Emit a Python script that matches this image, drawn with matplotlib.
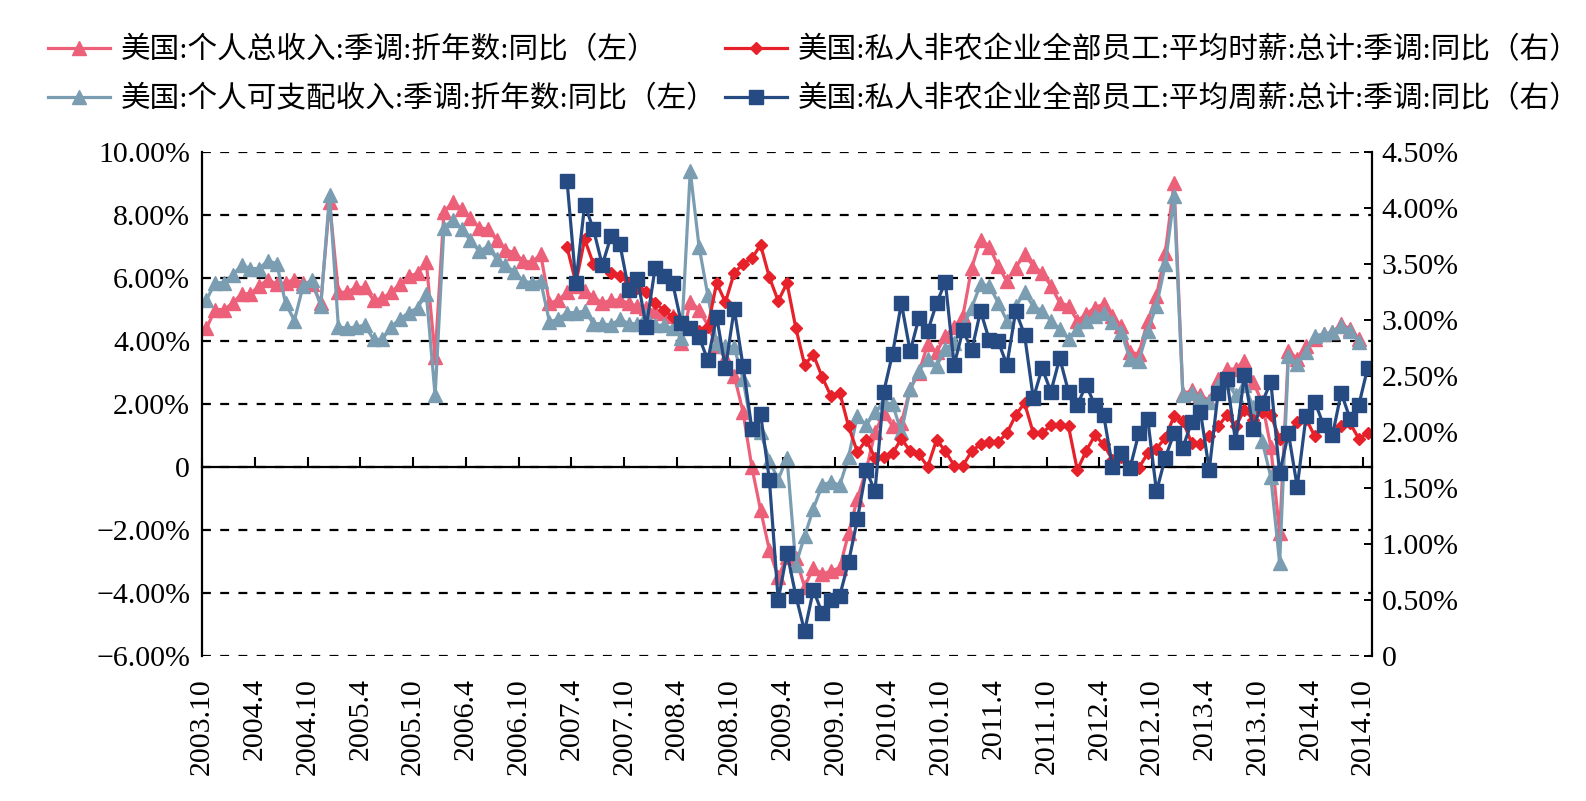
import matplotlib
matplotlib.use('Agg')
import matplotlib.pyplot as plt
import numpy as np
from matplotlib.ticker import FuncFormatter

plt.rcParams['font.family'] = ['Liberation Serif', 'Noto Sans CJK SC']

# monthly data, 2003.10 .. 2014.9 (income, left axis, %)
income_total = [4.4, 5.0, 5.0, 5.2, 5.5, 5.5, 5.75, 5.95, 5.8, 5.85, 5.95, 5.85, 5.8, 5.2, 8.4,
                5.55, 5.55, 5.7, 5.7, 5.3, 5.35, 5.55, 5.8, 6.05, 6.15, 6.5, 3.5, 8.1, 8.4, 8.2,
                7.9, 7.6, 7.55, 7.2, 6.9, 6.8, 6.54, 6.5, 6.75, 5.2, 5.3, 5.55, 5.75, 5.6, 5.4,
                5.2, 5.3, 5.3, 5.2, 5.1, 5.05, 4.95, 4.9, 4.8, 3.95, 5.25, 5.0, 4.5, 3.85, 3.45,
                2.9, 1.75, 0.0, -1.37, -2.64, -3.5, -2.85, -2.9, -3.8, -3.2, -3.4, -3.3, -3.2, -2.1,
                -1.0, -0.1, 1.1, 1.7, 1.3, 1.4, 2.48, 3.0, 3.9, 3.64, 4.17, 4.43, 4.8, 6.33, 7.22,
                7.0, 6.38, 5.9, 6.33, 6.75, 6.38, 6.17, 5.75, 5.22, 5.12, 4.64, 4.85, 5.06, 5.17,
                4.8, 4.48, 3.64, 3.59, 4.64, 5.43, 6.8, 9.02, 2.32, 2.43, 2.27, 2.11, 2.8, 3.11,
                3.11, 3.38, 2.69, 2.06, 0.63, -2.11, 3.69, 3.43, 3.85, 4.06, 4.22, 4.27, 4.54,
                4.38, 4.06]
income_disp = [5.3, 5.85, 5.85, 6.1, 6.4, 6.3, 6.3, 6.55, 6.45, 5.2, 4.65, 5.75, 5.95, 5.1, 8.65,
               4.45, 4.4, 4.45, 4.5, 4.05, 4.05, 4.45, 4.7, 4.9, 5.05, 5.5, 2.27, 7.6, 7.85, 7.55,
               7.2, 6.85, 7.0, 6.6, 6.4, 6.2, 5.9, 5.85, 5.9, 4.6, 4.7, 4.9, 4.9, 4.95, 4.55,
               4.55, 4.5, 4.7, 4.55, 4.55, 4.8, 4.5, 4.5, 4.4, 4.1, 9.4, 7.0, 5.45, 3.95, 3.85,
               3.8, 2.8, 1.2, 1.1, 0.2, -0.4, 0.3, -3.1, -2.2, -1.32, -0.58, -0.47, -0.58, 0.32,
               1.63, 1.32, 1.74, 2.05, 2.0, 1.1, 2.47, 3.06, 3.43, 3.2, 3.74, 3.95, 4.43, 5.06,
               5.8, 5.75, 5.22, 4.64, 5.1, 5.54, 5.1, 4.96, 4.64, 4.38, 4.06, 4.38, 4.64, 4.8,
               4.9, 4.59, 4.27, 3.43, 3.38, 4.32, 5.12, 6.43, 8.6, 2.3, 2.35, 2.2, 2.05, 2.6,
               2.7, 2.27, 2.6, 1.9, 0.84, -0.32, -3.06, 3.53, 3.27, 3.64, 4.17, 4.22, 4.27, 4.48,
               4.32, 3.96]

# monthly data, 2007.3 .. 2014.10 (wages, right axis, %)
wage_start = 41
hourly = [3.65, 3.33, 3.72, 3.5, 3.48, 3.42, 3.39, 3.33, 3.29, 3.25, 3.15, 3.09, 3.03, 2.97,
          2.93, 2.9, 2.94, 3.33, 3.16, 3.42, 3.5, 3.55, 3.67, 3.38, 3.17, 3.33, 2.93, 2.6,
          2.69, 2.49, 2.32, 2.35, 2.05, 1.82, 1.93, 1.77, 1.78, 1.81, 1.94, 1.83, 1.80, 1.69,
          1.93, 1.83, 1.70, 1.70, 1.83, 1.89, 1.91, 1.91, 1.99, 2.15, 2.26, 1.99, 1.99, 2.06,
          2.06, 2.05, 1.66, 1.83, 1.97, 1.89, 1.75, 1.78, 1.70, 1.68, 1.81, 1.85, 1.95, 2.14,
          2.1, 1.9, 1.89, 1.96, 2.05, 2.15, 2.05, 2.2, 2.11, 2.18, 2.15, 1.94, 1.99, 2.09,
          2.12, 1.96, 2.06, 1.99, 2.05, 2.08, 1.94, 1.99]
weekly = [4.24, 3.33, 4.03, 3.81, 3.49, 3.75, 3.68, 3.27, 3.37, 2.94, 3.46, 3.39, 3.33, 2.97,
          2.93, 2.85, 2.64, 3.03, 2.57, 3.1, 2.59, 2.03, 2.16, 1.57, 0.5, 0.92, 0.54, 0.22,
          0.59, 0.38, 0.5, 0.54, 0.84, 1.22, 1.66, 1.47, 2.36, 2.7, 3.15, 2.72, 3.02, 2.9,
          3.15, 3.34, 2.6, 2.91, 2.73, 3.08, 2.82, 2.81, 2.6, 3.08, 2.87, 2.3, 2.57, 2.36,
          2.66, 2.36, 2.24, 2.42, 2.24, 2.15, 1.69, 1.81, 1.68, 1.99, 2.12, 1.47, 1.77, 1.99,
          1.86, 2.09, 2.18, 1.66, 2.35, 2.47, 1.91, 2.51, 2.03, 2.26, 2.45, 1.63, 1.99, 1.51,
          2.14, 2.27, 2.06, 1.97, 2.35, 2.12, 2.24, 2.57]

tick_labels = ['2003.10', '2004.4', '2004.10', '2005.4', '2005.10', '2006.4', '2006.10',
               '2007.4', '2007.10', '2008.4', '2008.10', '2009.4', '2009.10', '2010.4',
               '2010.10', '2011.4', '2011.10', '2012.4', '2012.10', '2013.4', '2013.10',
               '2014.4', '2014.10']

labels = ['美国:个人总收入:季调:折年数:同比（左）',
          '美国:个人可支配收入:季调:折年数:同比（左）',
          '美国:私人非农企业全部员工:平均时薪:总计:季调:同比（右）',
          '美国:私人非农企业全部员工:平均周薪:总计:季调:同比（右）']

c_total = '#EC6079'
c_disp = '#7B9DB2'
c_hourly = '#E62129'
c_weekly = '#264A82'

x_income = np.arange(len(income_total))
x_wage = np.arange(len(hourly)) + wage_start
tick_pos = np.arange(len(tick_labels)) * 6 - 0.5

fig = plt.figure(figsize=(15.86, 8.01), dpi=100)
ax = fig.add_axes([202 / 1586, 1 - 656 / 801, 1170 / 1586, 504 / 801])
ax2 = ax.twinx()

l1, = ax.plot(x_income, income_total, color=c_total, lw=2.3, marker='^', ms=10, mec=c_total)
l2, = ax.plot(x_income, income_disp, color=c_disp, lw=2.3, marker='^', ms=10, mec=c_disp)
l3, = ax2.plot(x_wage, hourly, color=c_hourly, lw=2.3, marker='D', ms=6.5, mec=c_hourly)
l4, = ax2.plot(x_wage, weekly, color=c_weekly, lw=2.3, marker='s', ms=10, mec=c_weekly)

ax.set_xlim(-0.5, 132.5)
ax.set_ylim(-6, 10)
ax2.set_ylim(0, 4.5)

pct = lambda v, p: '0' if abs(v) < 1e-9 else '{:.2f}%'.format(v).replace('-', '\u2212')
ax.set_yticks(np.arange(-6, 10.1, 2))
ax.yaxis.set_major_formatter(FuncFormatter(pct))
ax2.set_yticks(np.arange(0, 4.51, 0.5))
ax2.yaxis.set_major_formatter(FuncFormatter(pct))

ax.grid(axis='y', color='black', lw=1.6, dashes=(4, 4.2))
ax.tick_params(axis='y', length=0, pad=8.5, labelsize=21.5)
ax2.tick_params(axis='y', direction='in', length=6, width=1.4, pad=7, labelsize=21.5)

# x axis sits on the zero line, labels at the bottom
ax.spines['bottom'].set_position(('data', 0))
ax.set_xticks(tick_pos)
ax.tick_params(axis='x', direction='in', length=7, width=1.5, labelbottom=False)
sec = ax.secondary_xaxis('bottom')
sec.set_xticks(tick_pos, labels=tick_labels)
sec.tick_params(length=0, pad=16, labelsize=21.5, labelrotation=90)
sec.spines['bottom'].set_visible(False)

for s in ['top', 'right']:
    ax.spines[s].set_visible(False)
for s in ['top', 'left', 'bottom']:
    ax2.spines[s].set_visible(False)
for sp in [ax.spines['left'], ax.spines['bottom'], ax2.spines['right']]:
    sp.set_linewidth(1.6)

fig.legend([l1, l2, l3, l4], labels, ncol=2, loc='upper left', bbox_to_anchor=(48 / 1586, 0.955),
           frameon=False, fontsize=21.3, handlelength=2.1, handletextpad=0.35, columnspacing=0.3,
           labelspacing=0.69, borderpad=0, borderaxespad=0)

fig.savefig('out.png', dpi=100)
